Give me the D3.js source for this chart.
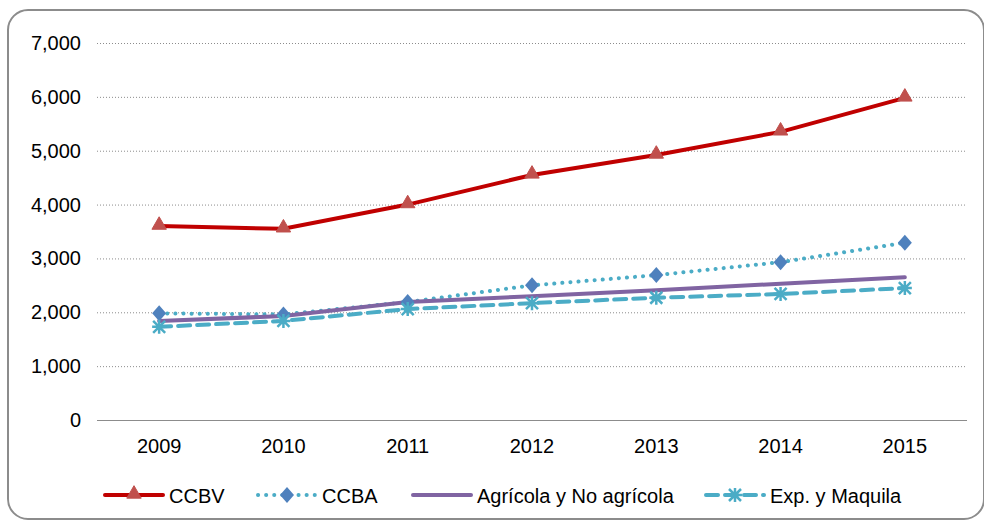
<!DOCTYPE html>
<html>
<head>
<meta charset="utf-8">
<script src="https://cdn.jsdelivr.net/npm/d3@7"></script>
<style>
  body { margin: 0; background: #fff; }
  svg { display: block; }
  text { font-family: "Liberation Sans", Arial, sans-serif; fill: #000; }
</style>
</head>
<body>
<script>
var width = 984,
    height = 521;

var years = ['2009', '2010', '2011', '2012', '2013', '2014', '2015'];
var ccbv = [3600, 3550, 4000, 4550, 4920, 5350, 5980];
var ccba = [1980, 1960, 2190, 2500, 2690, 2930, 3290];
var agricola = [1840, 1930, 2190, 2300, 2410, 2530, 2650];
var maquila = [1730, 1840, 2060, 2170, 2270, 2340, 2450];
var yTicks = [0, 1000, 2000, 3000, 4000, 5000, 6000, 7000];
var seriesNames = ['CCBV', 'CCBA', 'Agrícola y No agrícola', 'Exp. y Maquila'];

var svg = d3.select('body')
  .append('svg')
  .attr('width', width)
  .attr('height', height);

// frame
svg.append('rect')
  .attr('x', 8).attr('y', 10)
  .attr('width', 976).attr('height', 509)
  .attr('rx', 20).attr('ry', 20)
  .attr('fill', '#fff')
  .attr('stroke', '#8c8c8c')
  .attr('stroke-width', 2);

var x = d3.scaleBand()
  .domain(years)
  .range([97, 967]);

var y = d3.scaleLinear()
  .domain([0, 7000])
  .range([420, 43]);

// gridlines
svg.append('g').selectAll('line')
  .data(yTicks.filter(function(d) { return d > 0; }))
  .enter()
  .append('line')
  .attr('x1', 97).attr('x2', 967)
  .attr('y1', function(d) { return y(d) + 0.5; })
  .attr('y2', function(d) { return y(d) + 0.5; })
  .attr('stroke', '#8c8c8c')
  .attr('stroke-width', 1)
  .attr('stroke-dasharray', '1,2');

// y labels
var fmt = d3.format(',');
svg.append('g').selectAll('text')
  .data(yTicks)
  .enter()
  .append('text')
  .attr('x', 81)
  .attr('y', function(d) { return y(d) + 7; })
  .attr('text-anchor', 'end')
  .style('font-size', '20px')
  .text(function(d) { return fmt(d); });

// x axis
svg.append('line')
  .attr('x1', 97).attr('x2', 967)
  .attr('y1', 420.5).attr('y2', 420.5)
  .attr('stroke', '#8c8c8c')
  .attr('stroke-width', 1);

svg.append('g').selectAll('text')
  .data(years)
  .enter()
  .append('text')
  .attr('x', function(d) { return x(d) + x.bandwidth() / 2; })
  .attr('y', 453)
  .attr('text-anchor', 'middle')
  .style('font-size', '20px')
  .text(function(d) { return d; });

var cx = function(d, i) { return x(years[i]) + x.bandwidth() / 2; };
var line = d3.line()
  .x(cx)
  .y(function(d) { return y(d); });

var series = [
  {name: seriesNames[0], values: ccbv, color: '#c00000', dash: null, width: 4, marker: 'tri', mcolor: '#c0504d'},
  {name: seriesNames[1], values: ccba, color: '#4bacc6', dash: '0.1,8', width: 4, marker: 'dia', mcolor: '#4f81bd'},
  {name: seriesNames[2], values: agricola, color: '#8064a2', dash: null, width: 4, marker: null},
  {name: seriesNames[3], values: maquila, color: '#4bacc6', dash: '12,7', width: 4, marker: 'star', mcolor: '#4bacc6'}
];

function drawMarker(g, type, color, px, py) {
  if (type === 'tri') {
    g.append('path')
      .attr('d', d3.symbol().type(d3.symbolTriangle).size(90)())
      .attr('transform', 'translate(' + px + ',' + (py - 1) + ')')
      .attr('fill', color).attr('stroke', color).attr('stroke-width', 1);
  } else if (type === 'dia') {
    g.append('path')
      .attr('d', 'M0,-8L7,0L0,8L-7,0Z')
      .attr('transform', 'translate(' + px + ',' + py + ')')
      .attr('fill', color);
  } else if (type === 'star') {
    g.append('path')
      .attr('d', 'M-6,-6L6,6M-6,6L6,-6M0,-7L0,7M-7,0L7,0')
      .attr('transform', 'translate(' + px + ',' + py + ')')
      .attr('stroke', color).attr('stroke-width', 2.5)
      .attr('fill', 'none');
  }
}

var lines = svg.append('g');
series.forEach(function(s) {
  lines.append('path')
    .attr('d', line(s.values))
    .attr('fill', 'none')
    .attr('stroke', s.color)
    .attr('stroke-width', s.width)
    .attr('stroke-linecap', 'round')
    .attr('stroke-dasharray', s.dash);
});

var marks = svg.append('g');
series.forEach(function(s) {
  if (!s.marker) return;
  s.values.forEach(function(v, i) {
    drawMarker(marks, s.marker, s.mcolor, cx(v, i), y(v));
  });
});

// legend
var legendX = [105, 258, 413, 706];
var legend = svg.append('g');
series.forEach(function(s, i) {
  var lx = legendX[i], ly = 495;
  legend.append('line')
    .attr('x1', lx).attr('x2', lx + 58)
    .attr('y1', ly).attr('y2', ly)
    .attr('stroke', s.color)
    .attr('stroke-width', s.width)
    .attr('stroke-linecap', 'round')
    .attr('stroke-dasharray', s.dash);
  if (s.marker) drawMarker(legend, s.marker, s.mcolor, lx + 29, ly);
  legend.append('text')
    .attr('x', lx + 64)
    .attr('y', ly + 8)
    .style('font-size', '20px')
    .text(s.name);
});
</script>
</body>
</html>
